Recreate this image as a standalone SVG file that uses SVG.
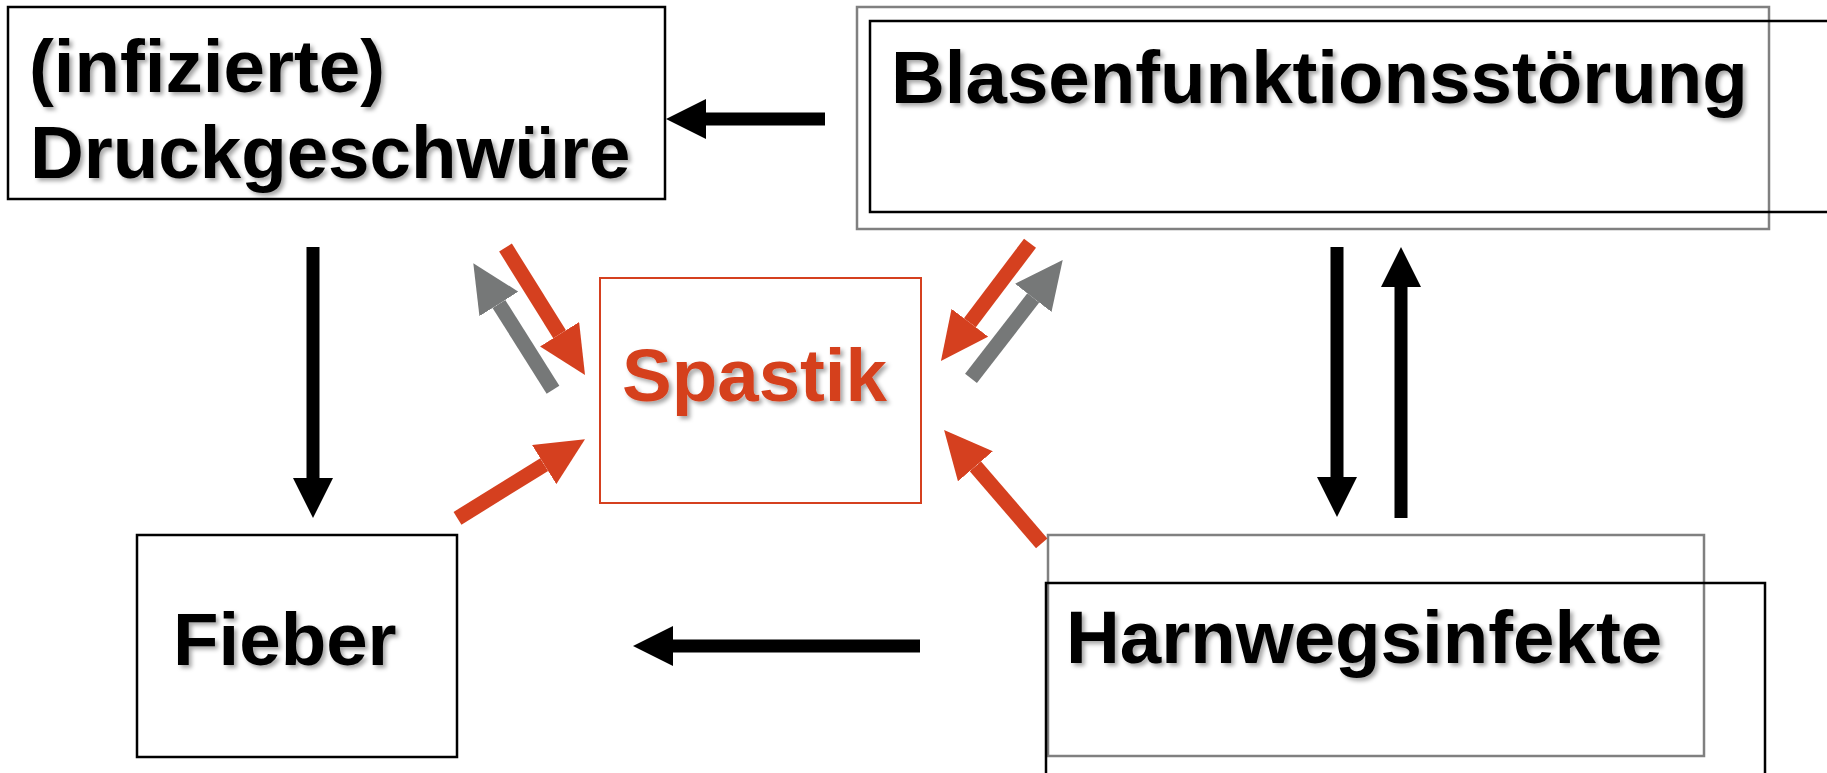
<svg xmlns="http://www.w3.org/2000/svg" width="1827" height="773" viewBox="0 0 1827 773">
<defs>
<filter id="sh" x="-5%" y="-20%" width="110%" height="140%">
<feDropShadow dx="3" dy="3" stdDeviation="2" flood-color="#000" flood-opacity="0.35"/>
</filter>
<marker id="hb" markerUnits="userSpaceOnUse" markerWidth="40" markerHeight="40" viewBox="0 0 40 40" refX="0" refY="20" orient="auto"><path d="M0,0 L40,20 L0,40 z" fill="#000"/></marker>
<marker id="hr" markerUnits="userSpaceOnUse" markerWidth="48" markerHeight="46" viewBox="0 0 48 46" refX="0" refY="23" orient="auto"><path d="M0,0 L48,23 L0,46 z" fill="#D5401F"/></marker>
<marker id="hg" markerUnits="userSpaceOnUse" markerWidth="48" markerHeight="46" viewBox="0 0 48 46" refX="0" refY="23" orient="auto"><path d="M0,0 L48,23 L0,46 z" fill="#767878"/></marker>
<style>
.t{font-family:"Liberation Sans",Arial,sans-serif;font-weight:bold;font-size:74.5px;fill:#000;filter:url(#sh)}
.tr{fill:#D5401F}
.bk{fill:none;stroke:#000;stroke-width:2.5}
.gy{fill:none;stroke:#808080;stroke-width:2.5}
.rd{fill:none;stroke:#D5401F;stroke-width:2}
.cb{stroke:#000;stroke-width:13;fill:none;marker-end:url(#hb)}
.cr{stroke:#D5401F;stroke-width:15;fill:none;marker-end:url(#hr)}
.cg{stroke:#767878;stroke-width:15;fill:none;marker-end:url(#hg)}
</style>
</defs>
<rect width="1827" height="773" fill="#fff"/>
<g id="druckgeschwuere">
<rect class="bk" x="8" y="7" width="657" height="192"/>
<text class="t" x="29" y="92">(infizierte)</text>
<text class="t" x="30" y="178">Druckgeschwüre</text>
</g>
<g id="blasenfunktionsstoerung">
<rect class="gy" x="857" y="7" width="912" height="222"/>
<rect class="bk" x="870" y="21" width="970" height="191"/>
<text class="t" x="891" y="103">Blasenfunktionsstörung</text>
</g>
<g id="spastik">
<rect class="rd" x="600" y="278" width="321" height="225"/>
<text class="t tr" x="622" y="401">Spastik</text>
</g>
<g id="fieber">
<rect class="bk" x="137" y="535" width="320" height="222"/>
<text class="t" x="173" y="665">Fieber</text>
</g>
<g id="harnwegsinfekte">
<rect class="gy" x="1048" y="535" width="656" height="221"/>
<rect class="bk" x="1046" y="583" width="719" height="200"/>
<text class="t" x="1066" y="663">Harnwegsinfekte</text>
</g>
<g id="connectors">
<line class="cb" x1="825" y1="119" x2="706" y2="119"/>
<line class="cb" x1="313" y1="247" x2="313" y2="478"/>
<line class="cb" x1="920" y1="646" x2="673" y2="646"/>
<line class="cb" x1="1337" y1="247" x2="1337" y2="477"/>
<line class="cb" x1="1401" y1="518" x2="1401" y2="287"/>
<line class="cr" x1="505.5" y1="247.5" x2="559.6" y2="334.2"/>
<line class="cg" x1="553" y1="389.7" x2="498.9" y2="303.9"/>
<line class="cr" x1="1030" y1="243.3" x2="969.9" y2="322.7"/>
<line class="cg" x1="971" y1="378.3" x2="1033.3" y2="297.9"/>
<line class="cr" x1="457.5" y1="518.3" x2="544.2" y2="464.6"/>
<line class="cr" x1="1041.7" y1="543.3" x2="975.4" y2="466.3"/>
</g>
</svg>
